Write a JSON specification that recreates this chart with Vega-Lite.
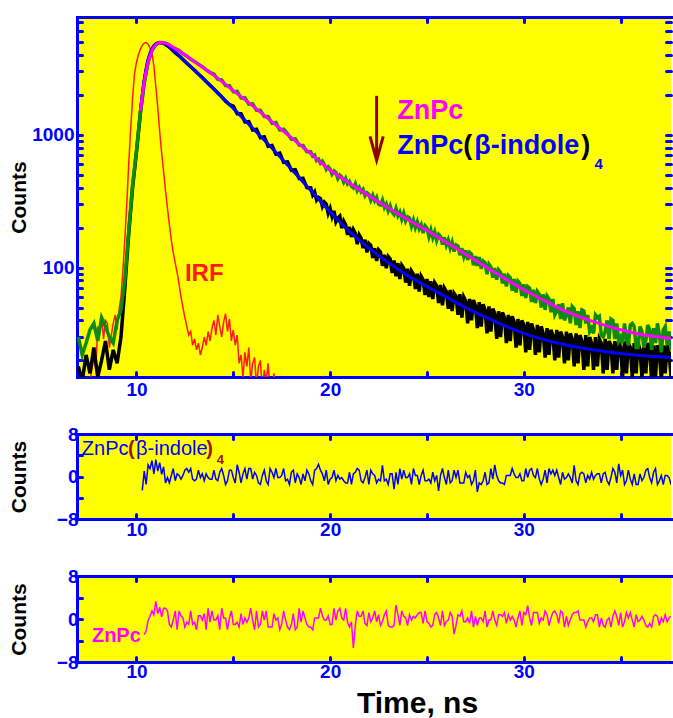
{
  "$schema": "https://vega.github.io/schema/vega-lite/v6.json",
  "padding": {"left": 8, "top": 13, "right": 0, "bottom": 0},
  "background": "#ffffff",
  "config": {
    "view": {"fill": "#ffff00", "stroke": null},
    "font": "Liberation Sans",
    "axis": {"labelFont": "Liberation Sans", "labelFontWeight": "bold", "labelFontSize": 19, "labelColor": "#0000ff",
      "titleFont": "Liberation Sans", "titleFontWeight": "bold", "titleColor": "#000000", "titleFontSize": 21,
      "domainColor": "#0000ff", "domainWidth": 3, "domainCap": "square", "tickColor": "#0000ff", "tickWidth": 3, "tickCap": "round",
      "tickSize": -5, "grid": false, "labelOverlap": false}
  },
  "datasets": {
    "irf": [{"t":7.0,"c":11},{"t":7.2,"c":13},{"t":7.4,"c":12},{"t":7.6,"c":14},{"t":7.8,"c":21},{"t":7.9,"c":17},{"t":8.0,"c":36},{"t":8.1,"c":33},{"t":8.2,"c":43},{"t":8.3,"c":29},{"t":8.4,"c":40},{"t":8.5,"c":38},{"t":8.6,"c":25},{"t":8.7,"c":31},{"t":8.8,"c":38},{"t":8.9,"c":44},{"t":9.0,"c":34},{"t":9.1,"c":48},{"t":9.2,"c":60},{"t":9.3,"c":95},{"t":9.4,"c":165},{"t":9.5,"c":300},{"t":9.6,"c":600},{"t":9.7,"c":1100},{"t":9.8,"c":1900},{"t":9.9,"c":2900},{"t":10.0,"c":3500},{"t":10.1,"c":4000},{"t":10.2,"c":4400},{"t":10.3,"c":4700},{"t":10.4,"c":4900},{"t":10.5,"c":4950},{"t":10.6,"c":4800},{"t":10.7,"c":4500},{"t":10.8,"c":4100},{"t":10.9,"c":3300},{"t":11.0,"c":2300},{"t":11.1,"c":1600},{"t":11.2,"c":1050},{"t":11.3,"c":730},{"t":11.4,"c":530},{"t":11.5,"c":380},{"t":11.6,"c":280},{"t":11.7,"c":210},{"t":11.8,"c":160},{"t":11.9,"c":130},{"t":12.0,"c":108},{"t":12.1,"c":92},{"t":12.2,"c":75},{"t":12.3,"c":60},{"t":12.4,"c":50},{"t":12.5,"c":42},{"t":12.6,"c":36},{"t":12.7,"c":31},{"t":12.8,"c":33},{"t":12.9,"c":26},{"t":13.0,"c":29},{"t":13.1,"c":24},{"t":13.2,"c":27},{"t":13.3,"c":22},{"t":13.4,"c":25},{"t":13.5,"c":30},{"t":13.6,"c":26},{"t":13.7,"c":33},{"t":13.8,"c":28},{"t":13.9,"c":35},{"t":14.0,"c":40},{"t":14.1,"c":31},{"t":14.2,"c":44},{"t":14.3,"c":36},{"t":14.4,"c":30},{"t":14.5,"c":39},{"t":14.6,"c":45},{"t":14.7,"c":33},{"t":14.8,"c":41},{"t":14.9,"c":28},{"t":15.0,"c":34},{"t":15.1,"c":26},{"t":15.2,"c":31},{"t":15.3,"c":19},{"t":15.4,"c":22},{"t":15.5,"c":15},{"t":15.6,"c":23},{"t":15.7,"c":18},{"t":15.8,"c":25},{"t":15.9,"c":14},{"t":16.0,"c":19},{"t":16.1,"c":21},{"t":16.2,"c":13},{"t":16.3,"c":18},{"t":16.4,"c":20},{"t":16.5,"c":12},{"t":16.6,"c":17},{"t":16.7,"c":14},{"t":16.8,"c":19},{"t":16.9,"c":11},{"t":17.0,"c":13},{"t":17.1,"c":16},{"t":17.2,"c":10},{"t":17.3,"c":14},{"t":17.4,"c":9}],
    "zn": [{"t":7.0,"c":30},{"t":7.2,"c":22},{"t":7.4,"c":27},{"t":7.6,"c":34},{"t":7.8,"c":38},{"t":8.0,"c":28},{"t":8.2,"c":42},{"t":8.4,"c":36},{"t":8.6,"c":30},{"t":8.8,"c":27},{"t":9.0,"c":40},{"t":9.2,"c":48},{"t":9.4,"c":80},{"t":9.6,"c":190},{"t":9.8,"c":420},{"t":10.0,"c":760},{"t":10.2,"c":1450},{"t":10.4,"c":2450},{"t":10.6,"c":3500},{"t":10.8,"c":4300},{"t":11.0,"c":4750},{"t":11.2,"c":4950},{"t":11.4,"c":4920},{"t":11.6,"c":4800},{"t":11.8,"c":4600},{"t":12.0,"c":4450},{"t":12.2,"c":4300},{"t":12.4,"c":4080},{"t":12.6,"c":3900},{"t":12.8,"c":3700},{"t":13.0,"c":3560},{"t":13.2,"c":3400},{"t":13.4,"c":3250},{"t":13.6,"c":3080},{"t":13.8,"c":2950},{"t":14.0,"c":2860},{"t":14.2,"c":2610},{"t":14.4,"c":2590},{"t":14.6,"c":2350},{"t":14.8,"c":2340},{"t":15.0,"c":2110},{"t":15.2,"c":2120},{"t":15.4,"c":1890},{"t":15.6,"c":1900},{"t":15.8,"c":1700},{"t":16.0,"c":1710},{"t":16.2,"c":1530},{"t":16.4,"c":1530},{"t":16.6,"c":1370},{"t":16.8,"c":1370},{"t":17.0,"c":1220},{"t":17.2,"c":1235},{"t":17.4,"c":1085},{"t":17.6,"c":1100},{"t":17.8,"c":1020},{"t":18.0,"c":925},{"t":18.2,"c":930},{"t":18.4,"c":835},{"t":18.6,"c":830},{"t":18.8,"c":745},
      {"t":19.0,"c":745},{"t":19.1,"c":688},{"t":19.2,"c":702},{"t":19.3,"c":640},{"t":19.4,"c":655},{"t":19.5,"c":610},{"t":19.6,"c":632},{"t":19.7,"c":598},{"t":19.8,"c":548},{"t":19.9,"c":574},{"t":20.0,"c":552},{"t":20.1,"c":505},{"t":20.2,"c":534},{"t":20.3,"c":520},{"t":20.4,"c":468},{"t":20.5,"c":497},{"t":20.6,"c":481},{"t":20.7,"c":440},{"t":20.8,"c":470},{"t":20.9,"c":428},{"t":21.0,"c":446},{"t":21.1,"c":410},{"t":21.2,"c":398},{"t":21.3,"c":428},{"t":21.4,"c":380},{"t":21.5,"c":402},{"t":21.6,"c":372},{"t":21.7,"c":388},{"t":21.8,"c":348},{"t":21.9,"c":366},{"t":22.0,"c":356},{"t":22.1,"c":322},{"t":22.2,"c":350},{"t":22.3,"c":318},{"t":22.4,"c":338},{"t":22.5,"c":300},{"t":22.6,"c":296},{"t":22.7,"c":322},{"t":22.8,"c":283},{"t":22.9,"c":301},{"t":23.0,"c":268},{"t":23.1,"c":292},{"t":23.2,"c":262},{"t":23.3,"c":251},{"t":23.4,"c":279},{"t":23.5,"c":246},{"t":23.6,"c":262},{"t":23.7,"c":231},{"t":23.8,"c":256},{"t":23.9,"c":224},{"t":24.0,"c":241},{"t":24.1,"c":236},{"t":24.2,"c":205},{"t":24.3,"c":228},{"t":24.4,"c":200},{"t":24.5,"c":221},{"t":24.6,"c":196},{"t":24.7,"c":210},{"t":24.8,"c":182},{"t":24.9,"c":206},{"t":25.0,"c":198},{"t":25.1,"c":171},{"t":25.2,"c":192},{"t":25.3,"c":168},{"t":25.4,"c":185},{"t":25.5,"c":160},{"t":25.6,"c":178},{"t":25.7,"c":172},{"t":25.8,"c":149},{"t":25.9,"c":169},{"t":26.0,"c":147},{"t":26.1,"c":161},{"t":26.2,"c":140},{"t":26.3,"c":155},{"t":26.4,"c":132},{"t":26.5,"c":148},{"t":26.6,"c":145},{"t":26.7,"c":124},{"t":26.8,"c":140},{"t":26.9,"c":121},{"t":27.0,"c":135},{"t":27.1,"c":114},{"t":27.2,"c":130},{"t":27.3,"c":126},{"t":27.4,"c":104},{"t":27.5,"c":122},{"t":27.6,"c":103},{"t":27.7,"c":120},{"t":27.8,"c":98},{"t":27.9,"c":112},{"t":28.0,"c":109},{"t":28.1,"c":89},{"t":28.2,"c":106},{"t":28.3,"c":101},{"t":28.4,"c":84},{"t":28.5,"c":99},{"t":28.6,"c":81},{"t":28.7,"c":96},{"t":28.8,"c":92},{"t":28.9,"c":76},{"t":29.0,"c":90},{"t":29.1,"c":72},{"t":29.2,"c":87},{"t":29.3,"c":84},{"t":29.4,"c":67},{"t":29.5,"c":82},{"t":29.6,"c":65},{"t":29.7,"c":79},{"t":29.8,"c":76},{"t":29.9,"c":61},{"t":30.0,"c":75},{"t":30.1,"c":59},{"t":30.2,"c":72},{"t":30.3,"c":70},{"t":30.4,"c":55},{"t":30.5,"c":68},{"t":30.6,"c":54},{"t":30.7,"c":66},{"t":30.8,"c":63},{"t":30.9,"c":50},{"t":31.0,"c":63},{"t":31.1,"c":48},{"t":31.2,"c":61},{"t":31.3,"c":58},{"t":31.4,"c":46},{"t":31.5,"c":58},{"t":31.6,"c":44},{"t":31.7,"c":47},{"t":31.8,"c":53},{"t":31.9,"c":41},{"t":32.0,"c":54},{"t":32.1,"c":40},{"t":32.2,"c":44},{"t":32.3,"c":50},{"t":32.4,"c":38},{"t":32.5,"c":51},{"t":32.6,"c":49},{"t":32.7,"c":37},{"t":32.8,"c":47},{"t":32.9,"c":35},{"t":33.0,"c":48},{"t":33.1,"c":47},{"t":33.2,"c":38},{"t":33.3,"c":44},{"t":33.4,"c":33},{"t":33.5,"c":35},{"t":33.6,"c":32},{"t":33.7,"c":44},{"t":33.8,"c":42},{"t":33.9,"c":43},{"t":34.0,"c":31},{"t":34.1,"c":30},{"t":34.2,"c":33},{"t":34.3,"c":40},{"t":34.4,"c":29},{"t":34.5,"c":41},{"t":34.6,"c":40},{"t":34.7,"c":29},{"t":34.8,"c":38},{"t":34.9,"c":28},{"t":35.0,"c":30},{"t":35.1,"c":27},{"t":35.2,"c":38},{"t":35.3,"c":29},{"t":35.4,"c":26},{"t":35.5,"c":37},{"t":35.6,"c":38},{"t":35.7,"c":36},{"t":35.8,"c":25},{"t":35.9,"c":25},{"t":36.0,"c":36},{"t":36.1,"c":33},{"t":36.2,"c":25},{"t":36.3,"c":28},{"t":36.4,"c":37},{"t":36.5,"c":34},{"t":36.6,"c":24},{"t":36.7,"c":35},{"t":36.8,"c":27},{"t":36.9,"c":38},{"t":37.0,"c":31},{"t":37.1,"c":23},{"t":37.2,"c":34},{"t":37.3,"c":36},{"t":37.4,"c":26},{"t":37.5,"c":33},{"t":37.6,"c":24},{"t":37.7,"c":35}],
    "ind": [{"t":7.0,"c":18},{"t":7.2,"c":14},{"t":7.4,"c":22},{"t":7.6,"c":16},{"t":7.8,"c":25},{"t":8.0,"c":15},{"t":8.2,"c":20},{"t":8.4,"c":28},{"t":8.6,"c":17},{"t":8.8,"c":24},{"t":9.0,"c":19},{"t":9.2,"c":30},{"t":9.4,"c":70},{"t":9.6,"c":180},{"t":9.8,"c":400},{"t":10.0,"c":740},{"t":10.2,"c":1450},{"t":10.4,"c":2500},{"t":10.6,"c":3600},{"t":10.8,"c":4400},{"t":11.0,"c":4800},{"t":11.2,"c":4950},{"t":11.4,"c":4880},{"t":11.6,"c":4680},{"t":11.8,"c":4430},{"t":12.0,"c":4150},{"t":12.2,"c":3930},{"t":12.4,"c":3690},{"t":12.6,"c":3450},{"t":12.8,"c":3250},{"t":13.0,"c":3060},{"t":13.2,"c":2870},{"t":13.4,"c":2700},{"t":13.6,"c":2520},{"t":13.8,"c":2360},{"t":14.0,"c":2210},{"t":14.2,"c":2060},{"t":14.4,"c":1930},{"t":14.6,"c":1790},{"t":14.8,"c":1690},{"t":15.0,"c":1640},{"t":15.2,"c":1440},{"t":15.4,"c":1440},{"t":15.6,"c":1250},{"t":15.8,"c":1255},{"t":16.0,"c":1085},{"t":16.2,"c":1100},{"t":16.4,"c":950},{"t":16.6,"c":965},{"t":16.8,"c":820},{"t":17.0,"c":830},{"t":17.2,"c":715},{"t":17.4,"c":728},{"t":17.6,"c":620},{"t":17.8,"c":625},{"t":18.0,"c":540},{"t":18.2,"c":545},{"t":18.4,"c":468},{"t":18.6,"c":470},{"t":18.8,"c":400},
      {"t":19.0,"c":398},{"t":19.1,"c":352},{"t":19.2,"c":371},{"t":19.3,"c":322},{"t":19.4,"c":338},{"t":19.5,"c":331},{"t":19.6,"c":289},{"t":19.7,"c":311},{"t":19.8,"c":300},{"t":19.9,"c":256},{"t":20.0,"c":279},{"t":20.1,"c":242},{"t":20.2,"c":268},{"t":20.3,"c":221},{"t":20.4,"c":236},{"t":20.5,"c":244},{"t":20.6,"c":198},{"t":20.7,"c":224},{"t":20.8,"c":210},{"t":20.9,"c":176},{"t":21.0,"c":202},{"t":21.1,"c":170},{"t":21.2,"c":193},{"t":21.3,"c":181},{"t":21.4,"c":150},{"t":21.5,"c":176},{"t":21.6,"c":166},{"t":21.7,"c":140},{"t":21.8,"c":162},{"t":21.9,"c":130},{"t":22.0,"c":152},{"t":22.1,"c":147},{"t":22.2,"c":118},{"t":22.3,"c":140},{"t":22.4,"c":112},{"t":22.5,"c":136},{"t":22.6,"c":131},{"t":22.7,"c":103},{"t":22.8,"c":125},{"t":22.9,"c":99},{"t":23.0,"c":121},{"t":23.1,"c":116},{"t":23.2,"c":91},{"t":23.3,"c":113},{"t":23.4,"c":86},{"t":23.5,"c":108},{"t":23.6,"c":82},{"t":23.7,"c":104},{"t":23.8,"c":99},{"t":23.9,"c":77},{"t":24.0,"c":98},{"t":24.1,"c":73},{"t":24.2,"c":94},{"t":24.3,"c":89},{"t":24.4,"c":69},{"t":24.5,"c":90},{"t":24.6,"c":66},{"t":24.7,"c":86},{"t":24.8,"c":81},{"t":24.9,"c":62},{"t":25.0,"c":82},{"t":25.1,"c":60},{"t":25.2,"c":79},{"t":25.3,"c":58},{"t":25.4,"c":77},{"t":25.5,"c":73},{"t":25.6,"c":54},{"t":25.7,"c":74},{"t":25.8,"c":52},{"t":25.9,"c":70},{"t":26.0,"c":66},{"t":26.1,"c":49},{"t":26.2,"c":68},{"t":26.3,"c":47},{"t":26.4,"c":64},{"t":26.5,"c":61},{"t":26.6,"c":44},{"t":26.7,"c":63},{"t":26.8,"c":42},{"t":26.9,"c":60},{"t":27.0,"c":56},{"t":27.1,"c":38},{"t":27.2,"c":58},{"t":27.3,"c":40},{"t":27.4,"c":57},{"t":27.5,"c":52},{"t":27.6,"c":35},{"t":27.7,"c":55},{"t":27.8,"c":36},{"t":27.9,"c":53},{"t":28.0,"c":48},{"t":28.1,"c":32},{"t":28.2,"c":51},{"t":28.3,"c":33},{"t":28.4,"c":49},{"t":28.5,"c":45},{"t":28.6,"c":29},{"t":28.7,"c":47},{"t":28.8,"c":30},{"t":28.9,"c":46},{"t":29.0,"c":42},{"t":29.1,"c":27},{"t":29.2,"c":44},{"t":29.3,"c":28},{"t":29.4,"c":43},{"t":29.5,"c":39},{"t":29.6,"c":25},{"t":29.7,"c":41},{"t":29.8,"c":26},{"t":29.9,"c":40},{"t":30.0,"c":37},{"t":30.1,"c":23},{"t":30.2,"c":39},{"t":30.3,"c":24},{"t":30.4,"c":38},{"t":30.5,"c":34},{"t":30.6,"c":22},{"t":30.7,"c":37},{"t":30.8,"c":23},{"t":30.9,"c":36},{"t":31.0,"c":32},{"t":31.1,"c":21},{"t":31.2,"c":35},{"t":31.3,"c":22},{"t":31.4,"c":34},{"t":31.5,"c":31},{"t":31.6,"c":20},{"t":31.7,"c":34},{"t":31.8,"c":21},{"t":31.9,"c":33},{"t":32.0,"c":30},{"t":32.1,"c":19},{"t":32.2,"c":33},{"t":32.3,"c":20},{"t":32.4,"c":32},{"t":32.5,"c":29},{"t":32.6,"c":18},{"t":32.7,"c":32},{"t":32.8,"c":19},{"t":32.9,"c":31},{"t":33.0,"c":28},{"t":33.1,"c":17},{"t":33.2,"c":31},{"t":33.3,"c":18},{"t":33.4,"c":30},{"t":33.5,"c":27},{"t":33.6,"c":17},{"t":33.7,"c":30},{"t":33.8,"c":18},{"t":33.9,"c":29},{"t":34.0,"c":27},{"t":34.1,"c":16},{"t":34.2,"c":29},{"t":34.3,"c":17},{"t":34.4,"c":28},{"t":34.5,"c":26},{"t":34.6,"c":16},{"t":34.7,"c":28},{"t":34.8,"c":17},{"t":34.9,"c":28},{"t":35.0,"c":25},{"t":35.1,"c":15},{"t":35.2,"c":28},{"t":35.3,"c":16},{"t":35.4,"c":27},{"t":35.5,"c":25},{"t":35.6,"c":15},{"t":35.7,"c":27},{"t":35.8,"c":16},{"t":35.9,"c":27},{"t":36.0,"c":24},{"t":36.1,"c":15},{"t":36.2,"c":26},{"t":36.3,"c":16},{"t":36.4,"c":27},{"t":36.5,"c":24},{"t":36.6,"c":14},{"t":36.7,"c":26},{"t":36.8,"c":15},{"t":36.9,"c":26},{"t":37.0,"c":23},{"t":37.1,"c":14},{"t":37.2,"c":26},{"t":37.3,"c":16},{"t":37.4,"c":26},{"t":37.5,"c":23},{"t":37.6,"c":15},{"t":37.7,"c":25}],
    "znfit": [{"t":10.2,"c":1500},{"t":10.4,"c":2500},{"t":10.6,"c":3500},{"t":10.8,"c":4300},{"t":11.0,"c":4750},{"t":11.2,"c":4950},{"t":11.5,"c":4900},{"t":12.0,"c":4450},{"t":12.5,"c":4000},{"t":13.0,"c":3550},{"t":14.0,"c":2800},{"t":15.0,"c":2150},{"t":16.0,"c":1650},{"t":17.0,"c":1250},{"t":18.0,"c":950},{"t":19.0,"c":720},{"t":20.0,"c":540},{"t":21.0,"c":432},{"t":22.0,"c":348},{"t":23.0,"c":282},{"t":24.0,"c":230},{"t":25.0,"c":190},{"t":26.0,"c":155},{"t":27.0,"c":126},{"t":28.0,"c":102},{"t":29.0,"c":83},{"t":30.0,"c":68},{"t":31.0,"c":57},{"t":32.0,"c":48},{"t":33.0,"c":42},{"t":34.0,"c":37.5},{"t":35.0,"c":34},{"t":36.0,"c":31.5},{"t":37.0,"c":30},{"t":37.75,"c":29}],
    "indfit": [{"t":10.2,"c":1500},{"t":10.4,"c":2600},{"t":10.6,"c":3700},{"t":10.8,"c":4450},{"t":11.0,"c":4850},{"t":11.2,"c":4950},{"t":11.4,"c":4900},{"t":11.8,"c":4450},{"t":12.4,"c":3700},{"t":13.0,"c":3050},{"t":14.0,"c":2200},{"t":15.0,"c":1580},{"t":16.0,"c":1120},{"t":17.0,"c":790},{"t":18.0,"c":550},{"t":19.0,"c":380},{"t":20.0,"c":262},{"t":21.0,"c":186},{"t":22.0,"c":140},{"t":23.0,"c":109},{"t":24.0,"c":87},{"t":25.0,"c":72},{"t":26.0,"c":60},{"t":27.0,"c":50},{"t":28.0,"c":42.5},{"t":29.0,"c":36.5},{"t":30.0,"c":32},{"t":31.0,"c":28.8},{"t":32.0,"c":26.5},{"t":33.0,"c":24.8},{"t":34.0,"c":23.5},{"t":35.0,"c":22.5},{"t":36.0,"c":21.8},{"t":37.0,"c":21.3},{"t":37.75,"c":21}],
    "resind": [{"t":10.3,"r":-2.6},{"t":10.4,"r":1.0},{"t":10.5,"r":-1.5},{"t":10.6,"r":2.2},{"t":10.7,"r":1.5},{"t":10.8,"r":3.0},{"t":10.9,"r":0.5},{"t":11.0,"r":3.2},{"t":11.1,"r":1.0},{"t":11.2,"r":2.6},{"t":11.3,"r":0.4},{"t":11.4,"r":1.8},
      {"t":11.5,"r":-1.2},{"t":11.6,"r":-0.2},{"t":11.7,"r":-1.2},{"t":11.8,"r":0.2},{"t":11.9,"r":1.5},{"t":12.0,"r":-0.8},{"t":12.1,"r":0.5},{"t":12.2,"r":0.2},{"t":12.3,"r":-0.5},{"t":12.4,"r":0.2},{"t":12.5,"r":1.2},{"t":12.6,"r":1.5},{"t":12.7,"r":0.8},{"t":12.8,"r":1.5},{"t":12.9,"r":-0.5},{"t":13.0,"r":-0.8},{"t":13.1,"r":-0.5},{"t":13.2,"r":1.2},{"t":13.3,"r":-0.2},{"t":13.4,"r":0.5},{"t":13.5,"r":-0.8},{"t":13.6,"r":0.5},{"t":13.7,"r":-0.2},{"t":13.8,"r":-0.5},{"t":13.9,"r":-0.5},{"t":14.0,"r":1.2},{"t":14.1,"r":-0.5},{"t":14.2,"r":-0.8},{"t":14.3,"r":0.8},{"t":14.4,"r":1.5},{"t":14.5,"r":0.2},{"t":14.6,"r":-1.5},{"t":14.7,"r":-0.8},{"t":14.8,"r":1.2},{"t":14.9,"r":1.2},{"t":15.0,"r":-0.2},{"t":15.1,"r":-1.2},{"t":15.2,"r":2.2},{"t":15.3,"r":0.8},{"t":15.4,"r":-1.2},{"t":15.5,"r":0.5},{"t":15.6,"r":1.5},{"t":15.7,"r":-0.5},{"t":15.8,"r":1.5},{"t":15.9,"r":1.5},{"t":16.0,"r":-0.5},{"t":16.1,"r":0.8},{"t":16.2,"r":0.2},{"t":16.3,"r":-1.2},{"t":16.4,"r":-1.5},{"t":16.5,"r":0.2},{"t":16.6,"r":1.2},{"t":16.7,"r":-0.8},{"t":16.8,"r":-1.5},{"t":16.9,"r":1.5},{"t":17.0,"r":0.8},{"t":17.1,"r":-0.2},{"t":17.2,"r":1.5},{"t":17.3,"r":-0.2},{"t":17.4,"r":-0.2},{"t":17.5,"r":0.2},{"t":17.6,"r":1.5},{"t":17.7,"r":-0.8},{"t":17.8,"r":-0.5},{"t":17.9,"r":-1.5},{"t":18.0,"r":0.8},{"t":18.1,"r":1.2},{"t":18.2,"r":-1.2},{"t":18.3,"r":0.5},{"t":18.4,"r":-0.2},{"t":18.5,"r":-1.5},{"t":18.6,"r":0.5},{"t":18.7,"r":-0.8},{"t":18.8,"r":1.2},{"t":18.9,"r":0.5},{"t":19.0,"r":-0.8},{"t":19.1,"r":-1.5},{"t":19.2,"r":1.2},{"t":19.3,"r":1.5},{"t":19.4,"r":2.3},{"t":19.5,"r":1.2},{"t":19.6,"r":0.5},{"t":19.7,"r":-0.8},{"t":19.8,"r":1.2},{"t":19.9,"r":-1.5},{"t":20.0,"r":-0.5},{"t":20.1,"r":-0.2},{"t":20.2,"r":1.2},{"t":20.3,"r":-0.8},{"t":20.4,"r":0.2},{"t":20.5,"r":-0.5},{"t":20.6,"r":-0.2},{"t":20.7,"r":-0.8},{"t":20.8,"r":-1.2},{"t":20.9,"r":-1.2},{"t":21.0,"r":0.8},{"t":21.1,"r":-1.5},{"t":21.2,"r":0.5},{"t":21.3,"r":0.8},{"t":21.4,"r":1.5},{"t":21.5,"r":1.2},{"t":21.6,"r":-0.8},{"t":21.7,"r":-1.2},{"t":21.8,"r":-0.2},{"t":21.9,"r":1.2},{"t":22.0,"r":-1.5},{"t":22.1,"r":1.2},{"t":22.2,"r":0.5},{"t":22.3,"r":0.2},{"t":22.4,"r":-1.2},{"t":22.5,"r":-0.5},{"t":22.6,"r":-0.8},{"t":22.7,"r":2.1},{"t":22.8,"r":-0.8},{"t":22.9,"r":-0.5},{"t":23.0,"r":-1.5},{"t":23.1,"r":0.5},{"t":23.2,"r":0.5},{"t":23.3,"r":-2.4},{"t":23.4,"r":0.8},{"t":23.5,"r":-1.5},{"t":23.6,"r":1.5},{"t":23.7,"r":-0.5},{"t":23.8,"r":1.2},{"t":23.9,"r":-0.2},{"t":24.0,"r":-0.2},{"t":24.1,"r":0.5},{"t":24.2,"r":-1.5},{"t":24.3,"r":1.5},{"t":24.4,"r":0.2},{"t":24.5,"r":0.2},{"t":24.6,"r":-1.5},{"t":24.7,"r":0.2},{"t":24.8,"r":1.2},{"t":24.9,"r":-0.8},{"t":25.0,"r":-0.8},{"t":25.1,"r":-0.5},{"t":25.2,"r":-1.2},{"t":25.3,"r":0.8},{"t":25.4,"r":-0.8},{"t":25.5,"r":0.2},{"t":25.6,"r":-2.7},{"t":25.7,"r":0.2},{"t":25.8,"r":1.5},{"t":25.9,"r":-0.2},{"t":26.0,"r":-1.5},{"t":26.1,"r":1.2},{"t":26.2,"r":-1.2},{"t":26.3,"r":-0.8},{"t":26.4,"r":1.2},{"t":26.5,"r":-0.2},{"t":26.6,"r":1.2},{"t":26.7,"r":-1.2},{"t":26.8,"r":-1.2},{"t":26.9,"r":-1.2},{"t":27.0,"r":0.8},{"t":27.1,"r":-0.2},{"t":27.2,"r":0.2},{"t":27.3,"r":-1.5},{"t":27.4,"r":-0.8},{"t":27.5,"r":1.2},{"t":27.6,"r":-2.9},{"t":27.7,"r":-1.2},{"t":27.8,"r":-1.5},{"t":27.9,"r":-0.8},{"t":28.0,"r":0.8},{"t":28.1,"r":-1.5},{"t":28.2,"r":-1.2},{"t":28.3,"r":1.5},{"t":28.4,"r":-0.5},{"t":28.5,"r":2.2},{"t":28.6,"r":0.2},{"t":28.7,"r":-0.8},{"t":28.8,"r":-1.2},{"t":28.9,"r":-1.2},{"t":29.0,"r":-1.5},{"t":29.1,"r":0.2},{"t":29.2,"r":0.2},{"t":29.3,"r":0.2},{"t":29.4,"r":1.5},{"t":29.5,"r":0.5},{"t":29.6,"r":-0.2},{"t":29.7,"r":-0.2},{"t":29.8,"r":0.5},{"t":29.9,"r":-0.8},{"t":30.0,"r":-0.8},{"t":30.1,"r":1.5},{"t":30.2,"r":-0.2},{"t":30.3,"r":1.2},{"t":30.4,"r":1.5},{"t":30.5,"r":0.2},{"t":30.6,"r":-0.2},{"t":30.7,"r":1.5},{"t":30.8,"r":-0.5},{"t":30.9,"r":-1.5},{"t":31.0,"r":-0.5},{"t":31.1,"r":1.2},{"t":31.2,"r":-1.2},{"t":31.3,"r":1.5},{"t":31.4,"r":0.5},{"t":31.5,"r":1.2},{"t":31.6,"r":0.2},{"t":31.7,"r":1.2},{"t":31.8,"r":-0.2},{"t":31.9,"r":-1.5},{"t":32.0,"r":0.8},{"t":32.1,"r":-0.5},{"t":32.2,"r":-0.2},{"t":32.3,"r":0.5},{"t":32.4,"r":-0.2},{"t":32.5,"r":-1.2},{"t":32.6,"r":2.1},{"t":32.7,"r":-0.8},{"t":32.8,"r":-1.5},{"t":32.9,"r":0.5},{"t":33.0,"r":0.8},{"t":33.1,"r":0.5},{"t":33.2,"r":-1.2},{"t":33.3,"r":0.2},{"t":33.4,"r":-0.5},{"t":33.5,"r":0.8},{"t":33.6,"r":-0.5},{"t":33.7,"r":0.2},{"t":33.8,"r":0.5},{"t":33.9,"r":0.5},{"t":34.0,"r":-1.2},{"t":34.1,"r":0.5},{"t":34.2,"r":0.8},{"t":34.3,"r":-0.8},{"t":34.4,"r":-1.5},{"t":34.5,"r":-0.2},{"t":34.6,"r":1.5},{"t":34.7,"r":0.8},{"t":34.8,"r":-1.2},{"t":34.9,"r":2.4},{"t":35.0,"r":0.2},{"t":35.1,"r":1.2},{"t":35.2,"r":-1.5},{"t":35.3,"r":-0.8},{"t":35.4,"r":1.2},{"t":35.5,"r":-0.5},{"t":35.6,"r":-1.5},{"t":35.7,"r":0.5},{"t":35.8,"r":-1.5},{"t":35.9,"r":-1.5},{"t":36.0,"r":0.5},{"t":36.1,"r":-0.8},{"t":36.2,"r":-0.2},{"t":36.3,"r":1.2},{"t":36.4,"r":1.5},{"t":36.5,"r":-0.2},{"t":36.6,"r":-1.2},{"t":36.7,"r":0.8},{"t":36.8,"r":1.5},{"t":36.9,"r":-1.5},{"t":37.0,"r":-0.8},{"t":37.1,"r":0.2},{"t":37.2,"r":-1.5},{"t":37.3,"r":0.2},{"t":37.4,"r":0.2},{"t":37.5,"r":-0.2},{"t":37.6,"r":-1.5},{"t":37.7,"r":0.8}],
    "reszn": [{"t":10.4,"r":-2.9},{"t":10.5,"r":-2.2},{"t":10.6,"r":-0.3},{"t":10.7,"r":0.5},{"t":10.8,"r":1.5},{"t":10.9,"r":0.8},{"t":11.0,"r":3.3},{"t":11.1,"r":1.0},{"t":11.2,"r":2.2},{"t":11.3,"r":0.4},{"t":11.4,"r":2.0},
      {"t":11.5,"r":2.0},{"t":11.6,"r":1.5},{"t":11.7,"r":-1.0},{"t":11.8,"r":-1.5},{"t":11.9,"r":-0.2},{"t":12.0,"r":1.5},{"t":12.1,"r":-2.0},{"t":12.2,"r":1.5},{"t":12.3,"r":0.6},{"t":12.4,"r":0.2},{"t":12.5,"r":-1.5},{"t":12.6,"r":-0.6},{"t":12.7,"r":-1.0},{"t":12.8,"r":1.5},{"t":12.9,"r":-1.0},{"t":13.0,"r":-0.6},{"t":13.1,"r":-2.0},{"t":13.2,"r":0.6},{"t":13.3,"r":0.6},{"t":13.4,"r":-0.2},{"t":13.5,"r":1.0},{"t":13.6,"r":-2.0},{"t":13.7,"r":2.0},{"t":13.8,"r":-0.6},{"t":13.9,"r":1.5},{"t":14.0,"r":-0.2},{"t":14.1,"r":-0.2},{"t":14.2,"r":0.6},{"t":14.3,"r":-2.0},{"t":14.4,"r":2.0},{"t":14.5,"r":0.2},{"t":14.6,"r":0.2},{"t":14.7,"r":-2.0},{"t":14.8,"r":0.2},{"t":14.9,"r":1.5},{"t":15.0,"r":-1.0},{"t":15.1,"r":-1.0},{"t":15.2,"r":-0.6},{"t":15.3,"r":-1.5},{"t":15.4,"r":1.0},{"t":15.5,"r":-1.0},{"t":15.6,"r":0.2},{"t":15.7,"r":-0.6},{"t":15.8,"r":0.2},{"t":15.9,"r":2.0},{"t":16.0,"r":-0.2},{"t":16.1,"r":-2.0},{"t":16.2,"r":1.5},{"t":16.3,"r":-1.5},{"t":16.4,"r":-1.0},{"t":16.5,"r":1.5},{"t":16.6,"r":-0.2},{"t":16.7,"r":1.5},{"t":16.8,"r":-1.5},{"t":16.9,"r":-1.5},{"t":17.0,"r":-1.5},{"t":17.1,"r":1.0},{"t":17.2,"r":-0.2},{"t":17.3,"r":0.2},{"t":17.4,"r":-2.0},{"t":17.5,"r":-1.0},{"t":17.6,"r":1.5},{"t":17.7,"r":-0.2},{"t":17.8,"r":-1.5},{"t":17.9,"r":-2.0},{"t":18.0,"r":-1.0},{"t":18.1,"r":1.0},{"t":18.2,"r":-2.0},{"t":18.3,"r":-1.5},{"t":18.4,"r":2.0},{"t":18.5,"r":-0.6},{"t":18.6,"r":1.5},{"t":18.7,"r":0.2},{"t":18.8,"r":-1.0},{"t":18.9,"r":-1.5},{"t":19.0,"r":-1.5},{"t":19.1,"r":-2.0},{"t":19.2,"r":0.2},{"t":19.3,"r":0.2},{"t":19.4,"r":0.2},{"t":19.5,"r":2.0},{"t":19.6,"r":0.6},{"t":19.7,"r":-0.2},{"t":19.8,"r":-0.2},{"t":19.9,"r":0.6},{"t":20.0,"r":-1.0},{"t":20.1,"r":-1.0},{"t":20.2,"r":2.0},{"t":20.3,"r":-0.2},{"t":20.4,"r":1.5},{"t":20.5,"r":2.0},{"t":20.6,"r":0.2},{"t":20.7,"r":-0.2},{"t":20.8,"r":2.0},{"t":20.9,"r":-0.6},{"t":21.0,"r":-1.5},{"t":21.1,"r":-0.5},{"t":21.2,"r":-5.4},{"t":21.3,"r":-1.2},{"t":21.4,"r":1.5},{"t":21.5,"r":0.5},
      {"t":21.6,"r":0.5},{"t":21.7,"r":1.5},{"t":21.8,"r":-0.8},{"t":21.9,"r":-1.2},{"t":22.0,"r":1.2},{"t":22.1,"r":-0.5},{"t":22.2,"r":0.2},{"t":22.3,"r":1.5},{"t":22.4,"r":-0.5},{"t":22.5,"r":0.8},{"t":22.6,"r":-1.2},{"t":22.7,"r":-0.5},{"t":22.8,"r":0.8},{"t":22.9,"r":1.5},{"t":23.0,"r":-1.2},{"t":23.1,"r":-1.5},{"t":23.2,"r":-1.5},{"t":23.3,"r":-1.2},{"t":23.4,"r":2.6},{"t":23.5,"r":0.8},{"t":23.6,"r":-1.2},{"t":23.7,"r":1.5},{"t":23.8,"r":0.5},{"t":23.9,"r":0.2},{"t":24.0,"r":-1.2},{"t":24.1,"r":0.8},{"t":24.2,"r":-0.2},{"t":24.3,"r":0.5},{"t":24.4,"r":0.2},{"t":24.5,"r":0.8},{"t":24.6,"r":1.2},{"t":24.7,"r":1.2},{"t":24.8,"r":-0.8},{"t":24.9,"r":1.5},{"t":25.0,"r":-0.5},{"t":25.1,"r":-0.8},{"t":25.2,"r":-1.5},{"t":25.3,"r":-1.2},{"t":25.4,"r":0.8},{"t":25.5,"r":1.2},{"t":25.6,"r":0.2},{"t":25.7,"r":-1.2},{"t":25.8,"r":1.5},{"t":25.9,"r":-1.2},{"t":26.0,"r":-0.5},{"t":26.1,"r":-0.2},{"t":26.2,"r":1.2},{"t":26.3,"r":0.5},{"t":26.4,"r":-2.8},{"t":26.5,"r":-1.2},{"t":26.6,"r":0.8},{"t":26.7,"r":0.5},{"t":26.8,"r":1.5},{"t":26.9,"r":-0.5},{"t":27.0,"r":-0.5},{"t":27.1,"r":0.2},{"t":27.2,"r":-0.8},{"t":27.3,"r":1.5},{"t":27.4,"r":-1.5},{"t":27.5,"r":0.5},{"t":27.6,"r":-1.2},{"t":27.7,"r":0.2},{"t":27.8,"r":0.2},{"t":27.9,"r":-0.5},{"t":28.0,"r":1.5},{"t":28.1,"r":-1.5},{"t":28.2,"r":-0.2},{"t":28.3,"r":-0.2},{"t":28.4,"r":1.5},{"t":28.5,"r":-0.2},{"t":28.6,"r":-1.2},{"t":28.7,"r":0.8},{"t":28.8,"r":0.8},{"t":28.9,"r":0.5},{"t":29.0,"r":1.2},{"t":29.1,"r":-0.8},{"t":29.2,"r":0.8},{"t":29.3,"r":-0.2},{"t":29.4,"r":0.5},{"t":29.5,"r":-0.2},{"t":29.6,"r":-1.5},{"t":29.7,"r":0.2},{"t":29.8,"r":1.5},{"t":29.9,"r":-1.2},{"t":30.0,"r":1.2},{"t":30.1,"r":0.8},{"t":30.2,"r":2.5},{"t":30.3,"r":0.2},{"t":30.4,"r":-1.2},{"t":30.5,"r":1.2},{"t":30.6,"r":1.2},{"t":30.7,"r":1.2},{"t":30.8,"r":-0.8},{"t":30.9,"r":0.2},{"t":31.0,"r":-0.2},{"t":31.1,"r":1.5},{"t":31.2,"r":0.8},{"t":31.3,"r":-1.2},{"t":31.4,"r":0.2},{"t":31.5,"r":1.2},{"t":31.6,"r":1.5},{"t":31.7,"r":0.8},{"t":31.8,"r":-0.8},{"t":31.9,"r":1.5},{"t":32.0,"r":1.2},{"t":32.1,"r":-1.5},{"t":32.2,"r":0.5},{"t":32.3,"r":-1.2},{"t":32.4,"r":-0.2},{"t":32.5,"r":0.8},{"t":32.6,"r":1.2},{"t":32.7,"r":1.2},{"t":32.8,"r":1.5},{"t":32.9,"r":-0.2},{"t":33.0,"r":-0.2},{"t":33.1,"r":-0.2},{"t":33.2,"r":-1.5},{"t":33.3,"r":-0.5},{"t":33.4,"r":0.2},{"t":33.5,"r":0.2},{"t":33.6,"r":-0.5},{"t":33.7,"r":0.8},{"t":33.8,"r":0.8},{"t":33.9,"r":-1.5},{"t":34.0,"r":0.2},{"t":34.1,"r":-1.2},{"t":34.2,"r":-1.5},{"t":34.3,"r":-0.2},{"t":34.4,"r":0.2},{"t":34.5,"r":-1.5},{"t":34.6,"r":0.5},{"t":34.7,"r":1.5},{"t":34.8,"r":0.5},{"t":34.9,"r":-1.2},{"t":35.0,"r":1.2},{"t":35.1,"r":-1.5},{"t":35.2,"r":-0.5},{"t":35.3,"r":1.2},{"t":35.4,"r":0.2},{"t":35.5,"r":1.2},{"t":35.6,"r":-0.2},{"t":35.7,"r":-1.5},{"t":35.8,"r":0.8},{"t":35.9,"r":-0.5},{"t":36.0,"r":-0.2},{"t":36.1,"r":0.5},{"t":36.2,"r":-0.2},{"t":36.3,"r":-1.2},{"t":36.4,"r":-1.5},{"t":36.5,"r":-0.8},{"t":36.6,"r":-1.5},{"t":36.7,"r":0.5},{"t":36.8,"r":0.8},{"t":36.9,"r":0.5},{"t":37.0,"r":-1.2},{"t":37.1,"r":0.2},{"t":37.2,"r":-0.5},{"t":37.3,"r":0.8},{"t":37.4,"r":-0.5},{"t":37.5,"r":0.2},{"t":37.6,"r":0.5},{"t":37.7,"r":0.5}]
  },
  "bounds": "flush",
  "spacing": 57,
  "vconcat": [
    {
      "width": 594, "height": 360,
      "layer": [
        {"data": {"name": "irf"}, "mark": {"type": "line", "color": "#ff1a1a", "strokeWidth": 1.5, "clip": true},
          "encoding": {
            "x": {"field": "t", "type": "quantitative", "scale": {"domain": [6.93, 37.6], "nice": false, "zero": false},
              "axis": {"orient": "bottom", "values": [10,15,20,25,30,35], "labelExpr": "datum.value % 10 === 0 ? datum.label : ''", "title": null, "labelPadding": 8}},
            "y": {"field": "c", "type": "quantitative", "scale": {"type": "log", "domain": [15, 7700], "nice": false},
              "axis": {"orient": "left", "values": [20,30,40,50,60,70,80,90,100,200,300,400,500,600,700,800,900,1000,2000,3000,4000,5000,6000,7000], "format": "d", "labelExpr": "datum.value === 100 || datum.value === 1000 ? datum.label : ''", "title": "Counts", "titleX": -48, "labelPadding": 8}}}},
        {"data": {"name": "ind"}, "mark": {"type": "line", "color": "#000000", "strokeWidth": 3.5, "clip": true},
          "encoding": {
            "x": {"field": "t", "type": "quantitative", "scale": {"domain": [6.93, 37.6], "nice": false, "zero": false},
              "axis": {"orient": "top", "values": [10,15,20,25,30,35], "labels": false, "title": null}},
            "y": {"field": "c", "type": "quantitative", "scale": {"type": "log", "domain": [15, 7700], "nice": false},
              "axis": {"orient": "right", "values": [20,30,40,50,60,70,80,90,100,200,300,400,500,600,700,800,900,1000,2000,3000,4000,5000,6000,7000], "labels": false, "domain": false, "title": null}}}},
        {"data": {"name": "zn"}, "mark": {"type": "line", "color": "#108a10", "strokeWidth": 3.5, "clip": true},
          "encoding": {
            "x": {"field": "t", "type": "quantitative", "axis": null},
            "y": {"field": "c", "type": "quantitative", "axis": null}}},
        {"data": {"name": "indfit"}, "mark": {"type": "line", "color": "#0000ff", "strokeWidth": 3, "interpolate": "monotone", "clip": true},
          "encoding": {
            "x": {"field": "t", "type": "quantitative", "axis": null},
            "y": {"field": "c", "type": "quantitative", "axis": null}}},
        {"data": {"name": "znfit"}, "mark": {"type": "line", "color": "#ff00ff", "strokeWidth": 3, "interpolate": "monotone", "clip": true},
          "encoding": {
            "x": {"field": "t", "type": "quantitative", "axis": null},
            "y": {"field": "c", "type": "quantitative", "axis": null}}},
        {"data": {"values": [{"t": 22.4, "c1": 1963, "c2": 690}]}, "mark": {"type": "rule", "color": "#8b0000", "strokeWidth": 3},
          "encoding": {
            "x": {"field": "t", "type": "quantitative", "axis": null},
            "y": {"field": "c1", "type": "quantitative", "axis": null},
            "y2": {"field": "c2"}}},
        {"data": {"values": [{"t": 22.4, "c": 790}]}, "mark": {"type": "point", "shape": "M-0.55,-1L0,1L0.55,-1", "filled": false, "stroke": "#8b0000", "strokeWidth": 3, "size": 576, "opacity": 1},
          "encoding": {
            "x": {"field": "t", "type": "quantitative", "axis": null},
            "y": {"field": "c", "type": "quantitative", "axis": null}}},
        {"data": {"values": [{"t": 12.5, "c": 90, "s": "IRF"}]}, "mark": {"type": "text", "color": "#ff1a1a", "fontSize": 24, "fontWeight": "bold", "align": "left", "baseline": "middle"},
          "encoding": {"x": {"field": "t", "type": "quantitative", "axis": null}, "y": {"field": "c", "type": "quantitative", "axis": null}, "text": {"field": "s"}}},
        {"data": {"values": [{"t": 23.46, "c": 1514, "s": "ZnPc"}]}, "mark": {"type": "text", "color": "#ff00ff", "fontSize": 27, "fontWeight": "bold", "align": "left", "baseline": "middle"},
          "encoding": {"x": {"field": "t", "type": "quantitative", "axis": null}, "y": {"field": "c", "type": "quantitative", "axis": null}, "text": {"field": "s"}}},
        {"data": {"values": [{"t": 23.46, "c": 826, "s": "ZnPc"}, {"t": 27.44, "c": 826, "s": "β-indole"}]}, "mark": {"type": "text", "color": "#0000ff", "fontSize": 27, "fontWeight": "bold", "align": "left", "baseline": "middle"},
          "encoding": {"x": {"field": "t", "type": "quantitative", "axis": null}, "y": {"field": "c", "type": "quantitative", "axis": null}, "text": {"field": "s"}}},
        {"data": {"values": [{"t": 26.87, "c": 826, "s": "("}, {"t": 32.97, "c": 826, "s": ")"}]}, "mark": {"type": "text", "color": "#000000", "fontSize": 27, "fontWeight": "bold", "align": "left", "baseline": "middle"},
          "encoding": {"x": {"field": "t", "type": "quantitative", "axis": null}, "y": {"field": "c", "type": "quantitative", "axis": null}, "text": {"field": "s"}}},
        {"data": {"values": [{"t": 33.65, "c": 600, "s": "4"}]}, "mark": {"type": "text", "color": "#0000ff", "fontSize": 15, "fontWeight": "bold", "align": "left", "baseline": "middle"},
          "encoding": {"x": {"field": "t", "type": "quantitative", "axis": null}, "y": {"field": "c", "type": "quantitative", "axis": null}, "text": {"field": "s"}}}
      ],
      "resolve": {"axis": {"x": "independent", "y": "independent"}}
    },
    {
      "width": 594, "height": 85,
      "layer": [
        {"mark": {"type": "rule", "color": "#0000cc", "strokeWidth": 2},
          "encoding": {"y": {"datum": 0, "type": "quantitative", "scale": {"domain": [-8, 8], "nice": false}, "axis": null}}},
        {"data": {"name": "resind"}, "mark": {"type": "line", "color": "#0000ff", "strokeWidth": 1.5, "clip": true},
          "encoding": {
            "x": {"field": "t", "type": "quantitative", "scale": {"domain": [6.93, 37.6], "nice": false, "zero": false},
              "axis": {"orient": "bottom", "values": [10,15,20,25,30,35], "labelExpr": "datum.value % 10 === 0 ? datum.label : ''", "title": null, "labelPadding": 6}},
            "y": {"field": "r", "type": "quantitative", "scale": {"domain": [-8, 8], "nice": false},
              "axis": {"orient": "left", "values": [-8,-4,0,4,8], "labelExpr": "datum.value % 8 === 0 ? datum.label : ''", "title": "Counts", "titleX": -48, "labelPadding": 4}}}},
        {"data": {"values": [{"t": 7.18, "r": 5.15, "s": "ZnPc"}, {"t": 9.98, "r": 5.15, "s": "β-indole"}]}, "mark": {"type": "text", "color": "#0000ff", "fontSize": 20, "align": "left", "baseline": "middle"},
          "encoding": {
            "x": {"field": "t", "type": "quantitative", "scale": {"domain": [6.93, 37.6], "nice": false, "zero": false},
              "axis": {"orient": "top", "values": [10,15,20,25,30,35], "labels": false, "title": null}},
            "y": {"field": "r", "type": "quantitative", "axis": null}, "text": {"field": "s"}}},
        {"data": {"values": [{"t": 9.56, "r": 5.15, "s": "("}, {"t": 13.6, "r": 5.15, "s": ")"}]}, "mark": {"type": "text", "color": "#a01010", "fontSize": 20, "fontWeight": "bold", "align": "left", "baseline": "middle"},
          "encoding": {
            "x": {"field": "t", "type": "quantitative", "axis": null},
            "y": {"field": "r", "type": "quantitative", "axis": null}, "text": {"field": "s"}}},
        {"data": {"values": [{"t": 14.15, "r": 3.2, "s": "4"}]}, "mark": {"type": "text", "color": "#a01010", "fontSize": 13, "fontWeight": "bold", "align": "left", "baseline": "middle"},
          "encoding": {
            "x": {"field": "t", "type": "quantitative", "axis": null},
            "y": {"field": "r", "type": "quantitative", "axis": null}, "text": {"field": "s"}}}
      ],
      "resolve": {"axis": {"x": "independent", "y": "independent"}}
    },
    {
      "width": 594, "height": 86,
      "layer": [
        {"mark": {"type": "rule", "color": "#0000cc", "strokeWidth": 2},
          "encoding": {"y": {"datum": 0, "type": "quantitative", "scale": {"domain": [-8, 8], "nice": false}, "axis": null}}},
        {"data": {"name": "reszn"}, "mark": {"type": "line", "color": "#ff00ff", "strokeWidth": 1.5, "clip": true},
          "encoding": {
            "x": {"field": "t", "type": "quantitative", "scale": {"domain": [6.93, 37.6], "nice": false, "zero": false},
              "axis": {"orient": "bottom", "values": [10,15,20,25,30,35], "labelExpr": "datum.value % 10 === 0 ? datum.label : ''", "title": "Time, ns", "titleFontSize": 30, "titleX": 340, "titleY": 50, "titleBaseline": "alphabetic", "labelPadding": 5}},
            "y": {"field": "r", "type": "quantitative", "scale": {"domain": [-8, 8], "nice": false},
              "axis": {"orient": "left", "values": [-8,-4,0,4,8], "labelExpr": "datum.value % 8 === 0 ? datum.label : ''", "title": "Counts", "titleX": -48, "labelPadding": 4}}}},
        {"data": {"values": [{"t": 7.7, "r": -3.2, "s": "ZnPc"}]}, "mark": {"type": "text", "color": "#ff00ff", "fontSize": 20, "fontWeight": "bold", "align": "left", "baseline": "middle"},
          "encoding": {
            "x": {"field": "t", "type": "quantitative", "scale": {"domain": [6.93, 37.6], "nice": false, "zero": false},
              "axis": {"orient": "top", "values": [10,15,20,25,30,35], "labels": false, "title": null}},
            "y": {"field": "r", "type": "quantitative", "axis": null}, "text": {"field": "s"}}}
      ],
      "resolve": {"axis": {"x": "independent", "y": "independent"}}
    }
  ]
}
